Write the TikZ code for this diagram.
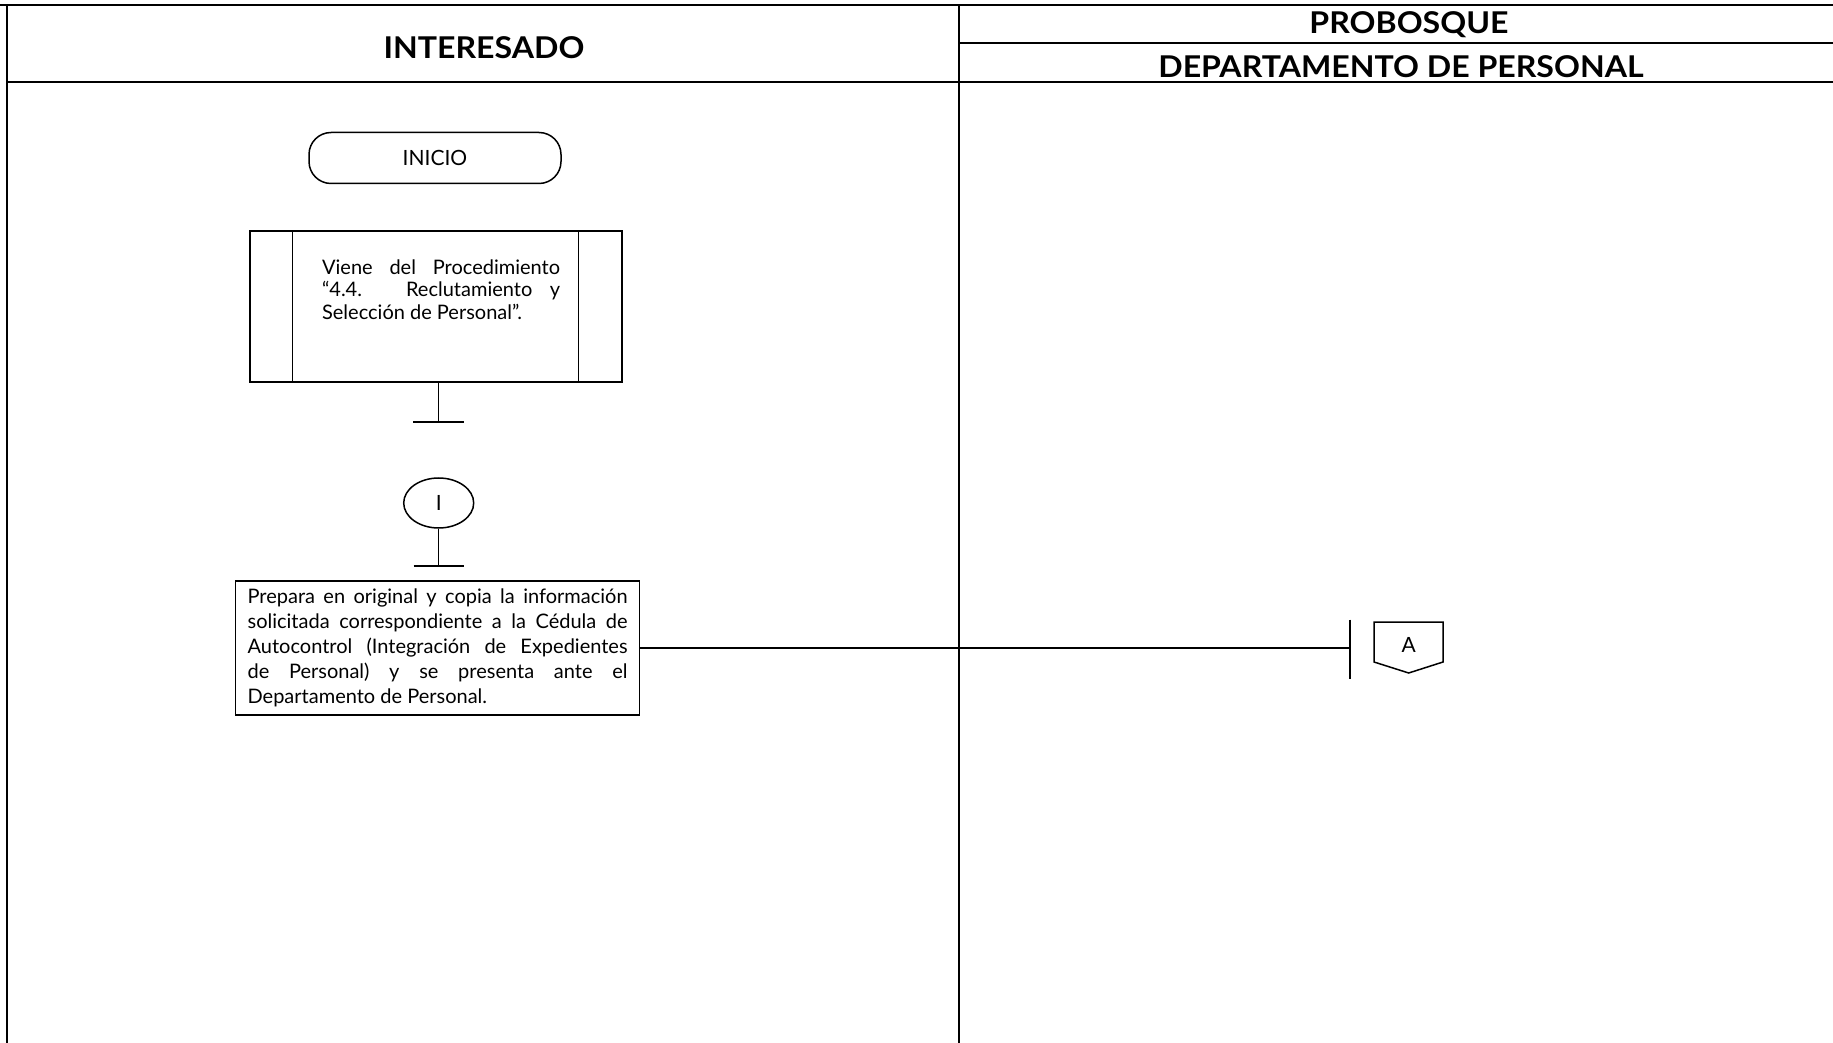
\documentclass[tikz,border=0pt]{standalone}
\usepackage{fontspec}
\setmainfont{Lato}
\newfontfamily\lanefont{Lato}[FakeStretch=1.07]
\usetikzlibrary{positioning,shapes.geometric}

\tikzset{
  lane/.style={line width=1pt},
  hdr/.style={font=\lanefont\bfseries\fontsize{15pt}{17pt}\selectfont},
  flow/.style={line width=0.75pt},
  term/.style={draw, flow, rounded corners=11pt, minimum width=126pt,
    minimum height=25.5pt, font=\fontsize{10.5pt}{12pt}\selectfont},
  subproc/.style={draw, flow, minimum width=186pt, minimum height=75.5pt},
  conn/.style={draw, flow, ellipse, minimum width=35pt,
    minimum height=25pt, inner sep=0pt, font=\fontsize{10.5pt}{12pt}\selectfont},
  proc/.style={draw, flow, text width=190pt, align=justify, inner xsep=6pt,
    minimum height=67pt, font=\fontsize{10pt}{12.5pt}\selectfont},
}

\begin{document}
\begin{tikzpicture}[x=0.5pt, y=-0.5pt]
    \useasboundingbox (0,0) rectangle (1833,1043);
    % swimlane frame
    \draw[lane] (0,5) -- (1833,5);
    \draw[lane] (7,5) -- (7,1043);
    \draw[lane] (958.5,5) -- (958.5,1043);
    \draw[lane] (958.5,43) -- (1833,43);
    \draw[lane] (7,82) -- (1833,82);
    \node[hdr] (interesado) at (484,48) {INTERESADO};
    \node[hdr] (probosque) at (1409,25) {PROBOSQUE};
    \node[hdr] (depto) at (1401,67) {DEPARTAMENTO DE PERSONAL};

    % interesado lane
    \node[term] (inicio) at (435,158) {INICIO};
    \node[subproc] (viene) at (436,306.5) {};
    \draw[flow] ([xshift=21.7pt]viene.north west) -- ([xshift=21.7pt]viene.south west);
    \draw[flow] ([xshift=-22.2pt]viene.north east) -- ([xshift=-22.2pt]viene.south east);
    \node[anchor=north west, text width=119pt, align=justify, inner sep=0pt,
      font=\fontsize{10pt}{11.4pt}\selectfont] (vienetxt) at (321.7,259)
      {Viene del Procedimiento\linebreak ``4.4. Reclutamiento y\linebreak Selección de Personal''.};
    \coordinate (bar1) at (438.5,422);
    \draw[flow] (bar1 |- viene.south) -- (bar1);
    \draw[flow] (bar1) ++(-25.5,0) -- ++(51,0);

    \node[conn] (conI) at (438.7,503) {I};
    \coordinate (bar2) at (438.5,566);
    \draw[flow] (bar2 |- conI.south) -- (bar2);
    \draw[flow] (bar2) ++(-25,0) -- ++(50,0);

    \node[proc] (prepara) at (437.6,648) {Prepara en original y copia la información\linebreak
      solicitada correspondiente a la Cédula de\linebreak
      Autocontrol (Integración de Expedientes\linebreak
      de Personal) y se presenta ante el\linebreak
      Departamento de Personal.};

    % off-page connector
    \coordinate (bar3) at (1350,648);
    \draw[flow] (prepara.east |- bar3) -- (bar3);
    \draw[flow] (bar3) ++(0,-28.5) -- ++(0,59);
    \draw[flow] (1374,622) -- (1443,622) -- (1443,662) -- (1408.7,673) -- (1374,662) -- cycle;
    \node[font=\fontsize{10.5pt}{12pt}\selectfont] (offA) at (1408.7,645) {A};
\end{tikzpicture}
\end{document}
